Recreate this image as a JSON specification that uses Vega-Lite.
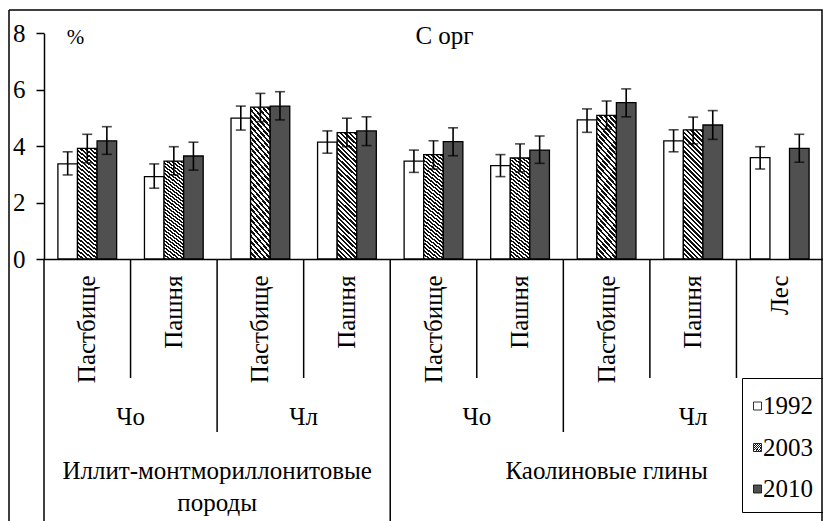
{
  "$schema": "https://vega.github.io/schema/vega-lite/v6.json",
  "width": 813,
  "height": 511,
  "autosize": "none",
  "padding": {"left": 9, "top": 10, "right": 1, "bottom": 0},
  "background": "#ffffff",
  "config": {
    "font": "Liberation Serif",
    "text": {"font": "Liberation Serif"},
    "view": {"stroke": "#000000", "strokeWidth": 1.5, "strokeDash": [1324, 813, 511, 0]},
    "axis": {"labelFont": "Liberation Serif", "titleFont": "Liberation Serif", "labelColor": "#000000", "labelFontSize": 25, "titleColor": "#000000", "domainColor": "#000000", "tickColor": "#000000", "grid": false, "labelOverlap": false, "labelFlush": false},
    "legend": {"labelFont": "Liberation Serif", "titleFont": "Liberation Serif"}
  },
  "title": {"text": "С орг", "frame": "group", "anchor": "middle", "dx": 29, "dy": 25, "offset": -34, "baseline": "alphabetic", "font": "Liberation Serif", "fontSize": 25, "fontWeight": "normal", "color": "#000000"},
  "datasets": {
    "bars": [
      {"cat": "Иллит Чо Пастбище", "year": "1992", "value": 3.37, "lo": 2.98, "hi": 3.80},
      {"cat": "Иллит Чо Пастбище", "year": "2003", "value": 3.92, "lo": 3.41, "hi": 4.42},
      {"cat": "Иллит Чо Пастбище", "year": "2010", "value": 4.19, "lo": 3.71, "hi": 4.69},
      {"cat": "Иллит Чо Пашня", "year": "1992", "value": 2.92, "lo": 2.51, "hi": 3.37},
      {"cat": "Иллит Чо Пашня", "year": "2003", "value": 3.47, "lo": 2.98, "hi": 3.98},
      {"cat": "Иллит Чо Пашня", "year": "2010", "value": 3.65, "lo": 3.15, "hi": 4.14},
      {"cat": "Иллит Чл Пастбище", "year": "1992", "value": 4.99, "lo": 4.57, "hi": 5.42},
      {"cat": "Иллит Чл Пастбище", "year": "2003", "value": 5.38, "lo": 4.87, "hi": 5.87},
      {"cat": "Иллит Чл Пастбище", "year": "2010", "value": 5.42, "lo": 4.93, "hi": 5.93},
      {"cat": "Иллит Чл Пашня", "year": "1992", "value": 4.14, "lo": 3.75, "hi": 4.54},
      {"cat": "Иллит Чл Пашня", "year": "2003", "value": 4.48, "lo": 3.98, "hi": 4.99},
      {"cat": "Иллит Чл Пашня", "year": "2010", "value": 4.54, "lo": 4.02, "hi": 5.04},
      {"cat": "Каолин Чо Пастбище", "year": "1992", "value": 3.47, "lo": 3.07, "hi": 3.86},
      {"cat": "Каолин Чо Пастбище", "year": "2003", "value": 3.70, "lo": 3.19, "hi": 4.19},
      {"cat": "Каолин Чо Пастбище", "year": "2010", "value": 4.16, "lo": 3.66, "hi": 4.65},
      {"cat": "Каолин Чо Пашня", "year": "1992", "value": 3.31, "lo": 2.92, "hi": 3.70},
      {"cat": "Каолин Чо Пашня", "year": "2003", "value": 3.58, "lo": 3.09, "hi": 4.08},
      {"cat": "Каолин Чо Пашня", "year": "2010", "value": 3.86, "lo": 3.39, "hi": 4.36},
      {"cat": "Каолин Чл Пастбище", "year": "1992", "value": 4.93, "lo": 4.49, "hi": 5.32},
      {"cat": "Каолин Чл Пастбище", "year": "2003", "value": 5.09, "lo": 4.60, "hi": 5.60},
      {"cat": "Каолин Чл Пастбище", "year": "2010", "value": 5.54, "lo": 5.04, "hi": 6.03},
      {"cat": "Каолин Чл Пашня", "year": "1992", "value": 4.19, "lo": 3.80, "hi": 4.58},
      {"cat": "Каолин Чл Пашня", "year": "2003", "value": 4.58, "lo": 4.08, "hi": 5.03},
      {"cat": "Каолин Чл Пашня", "year": "2010", "value": 4.75, "lo": 4.24, "hi": 5.26},
      {"cat": "Каолин Лес", "year": "1992", "value": 3.59, "lo": 3.19, "hi": 3.98},
      {"cat": "Каолин Лес", "year": "2010", "value": 3.92, "lo": 3.43, "hi": 4.42}
    ],
    "dividers": [
      {"cat": "Иллит Чо Пастбище", "depth": 3},
      {"cat": "Иллит Чо Пашня", "depth": 1},
      {"cat": "Иллит Чл Пастбище", "depth": 2},
      {"cat": "Иллит Чл Пашня", "depth": 1},
      {"cat": "Каолин Чо Пастбище", "depth": 3},
      {"cat": "Каолин Чо Пашня", "depth": 1},
      {"cat": "Каолин Чл Пастбище", "depth": 2},
      {"cat": "Каолин Чл Пашня", "depth": 1},
      {"cat": "Каолин Лес", "depth": 1}
    ],
    "groups": [
      {"label": "Чо", "level": 2, "cat": "Иллит Чо Пастбище", "anchor": "edge"},
      {"label": "Чл", "level": 2, "cat": "Иллит Чл Пастбище", "anchor": "edge"},
      {"label": "Чо", "level": 2, "cat": "Каолин Чо Пастбище", "anchor": "edge"},
      {"label": "Чл", "level": 2, "cat": "Каолин Чл Пашня", "anchor": "middle"},
      {"label": "Иллит-монтмориллонитовые\nпороды", "level": 3, "cat": "Иллит Чо Пашня", "anchor": "edge"},
      {"label": "Каолиновые глины", "level": 3, "cat": "Каолин Чл Пастбище", "anchor": "middle"}
    ]
  },
  "layer": [
    {
      "data": {"name": "bars"},
      "encoding": {
        "x": {
          "field": "cat", "type": "nominal",
          "scale": {"domain": ["Иллит Чо Пастбище", "Иллит Чо Пашня", "Иллит Чл Пастбище", "Иллит Чл Пашня", "Каолин Чо Пастбище", "Каолин Чо Пашня", "Каолин Чл Пастбище", "Каолин Чл Пашня", "Каолин Лес"], "range": [35, 814], "paddingInner": 0, "paddingOuter": 0},
          "axis": {"orient": "bottom", "offset": -262, "title": null, "ticks": false, "domainWidth": 1.5, "labelAngle": -90, "labelAlign": "right", "labelBaseline": "middle", "labelPadding": 16, "labelLimit": 0, "labelExpr": "peek(split(datum.value, ' '))"}
        },
        "xOffset": {"field": "year", "type": "nominal", "scale": {"domain": ["1992", "2003", "2010"], "paddingInner": 0, "paddingOuter": 0.71}}
      },
      "layer": [
        {
          "mark": {"type": "bar", "stroke": "#000000", "strokeWidth": 1.3},
          "encoding": {
            "y": {
              "field": "value", "type": "quantitative",
              "scale": {"domain": [0, 8], "range": [249, 23.3], "nice": false},
              "axis": {"offset": -35, "values": [0, 2, 4, 6, 8], "format": "d", "tickSize": 8, "tickWidth": 1.5, "domainWidth": 1.5, "labelPadding": 11, "title": "%", "titleAngle": 0, "titleX": 31, "titleY": 33, "titleAlign": "center", "titleBaseline": "alphabetic", "titleFontSize": 21, "titleFontWeight": "normal"}
            },
            "fill": {
              "field": "year", "type": "nominal",
              "scale": {
                "domain": ["1992", "2003", "2010"],
                "range": [
                  "#ffffff",
                  {"expr": "{gradient: 'linear', x1: 0, y1: 1, x2: 0.17, y2: -0.13, stops: [{offset: 0, color: '#111'}, {offset: 0.015625, color: '#111'}, {offset: 0.015625, color: '#fff'}, {offset: 0.03125, color: '#fff'}, {offset: 0.03125, color: '#111'}, {offset: 0.046875, color: '#111'}, {offset: 0.046875, color: '#fff'}, {offset: 0.0625, color: '#fff'}, {offset: 0.0625, color: '#111'}, {offset: 0.078125, color: '#111'}, {offset: 0.078125, color: '#fff'}, {offset: 0.09375, color: '#fff'}, {offset: 0.09375, color: '#111'}, {offset: 0.109375, color: '#111'}, {offset: 0.109375, color: '#fff'}, {offset: 0.125, color: '#fff'}, {offset: 0.125, color: '#111'}, {offset: 0.140625, color: '#111'}, {offset: 0.140625, color: '#fff'}, {offset: 0.15625, color: '#fff'}, {offset: 0.15625, color: '#111'}, {offset: 0.171875, color: '#111'}, {offset: 0.171875, color: '#fff'}, {offset: 0.1875, color: '#fff'}, {offset: 0.1875, color: '#111'}, {offset: 0.203125, color: '#111'}, {offset: 0.203125, color: '#fff'}, {offset: 0.21875, color: '#fff'}, {offset: 0.21875, color: '#111'}, {offset: 0.234375, color: '#111'}, {offset: 0.234375, color: '#fff'}, {offset: 0.25, color: '#fff'}, {offset: 0.25, color: '#111'}, {offset: 0.265625, color: '#111'}, {offset: 0.265625, color: '#fff'}, {offset: 0.28125, color: '#fff'}, {offset: 0.28125, color: '#111'}, {offset: 0.296875, color: '#111'}, {offset: 0.296875, color: '#fff'}, {offset: 0.3125, color: '#fff'}, {offset: 0.3125, color: '#111'}, {offset: 0.328125, color: '#111'}, {offset: 0.328125, color: '#fff'}, {offset: 0.34375, color: '#fff'}, {offset: 0.34375, color: '#111'}, {offset: 0.359375, color: '#111'}, {offset: 0.359375, color: '#fff'}, {offset: 0.375, color: '#fff'}, {offset: 0.375, color: '#111'}, {offset: 0.390625, color: '#111'}, {offset: 0.390625, color: '#fff'}, {offset: 0.40625, color: '#fff'}, {offset: 0.40625, color: '#111'}, {offset: 0.421875, color: '#111'}, {offset: 0.421875, color: '#fff'}, {offset: 0.4375, color: '#fff'}, {offset: 0.4375, color: '#111'}, {offset: 0.453125, color: '#111'}, {offset: 0.453125, color: '#fff'}, {offset: 0.46875, color: '#fff'}, {offset: 0.46875, color: '#111'}, {offset: 0.484375, color: '#111'}, {offset: 0.484375, color: '#fff'}, {offset: 0.5, color: '#fff'}, {offset: 0.5, color: '#111'}, {offset: 0.515625, color: '#111'}, {offset: 0.515625, color: '#fff'}, {offset: 0.53125, color: '#fff'}, {offset: 0.53125, color: '#111'}, {offset: 0.546875, color: '#111'}, {offset: 0.546875, color: '#fff'}, {offset: 0.5625, color: '#fff'}, {offset: 0.5625, color: '#111'}, {offset: 0.578125, color: '#111'}, {offset: 0.578125, color: '#fff'}, {offset: 0.59375, color: '#fff'}, {offset: 0.59375, color: '#111'}, {offset: 0.609375, color: '#111'}, {offset: 0.609375, color: '#fff'}, {offset: 0.625, color: '#fff'}, {offset: 0.625, color: '#111'}, {offset: 0.640625, color: '#111'}, {offset: 0.640625, color: '#fff'}, {offset: 0.65625, color: '#fff'}, {offset: 0.65625, color: '#111'}, {offset: 0.671875, color: '#111'}, {offset: 0.671875, color: '#fff'}, {offset: 0.6875, color: '#fff'}, {offset: 0.6875, color: '#111'}, {offset: 0.703125, color: '#111'}, {offset: 0.703125, color: '#fff'}, {offset: 0.71875, color: '#fff'}, {offset: 0.71875, color: '#111'}, {offset: 0.734375, color: '#111'}, {offset: 0.734375, color: '#fff'}, {offset: 0.75, color: '#fff'}, {offset: 0.75, color: '#111'}, {offset: 0.765625, color: '#111'}, {offset: 0.765625, color: '#fff'}, {offset: 0.78125, color: '#fff'}, {offset: 0.78125, color: '#111'}, {offset: 0.796875, color: '#111'}, {offset: 0.796875, color: '#fff'}, {offset: 0.8125, color: '#fff'}, {offset: 0.8125, color: '#111'}, {offset: 0.828125, color: '#111'}, {offset: 0.828125, color: '#fff'}, {offset: 0.84375, color: '#fff'}, {offset: 0.84375, color: '#111'}, {offset: 0.859375, color: '#111'}, {offset: 0.859375, color: '#fff'}, {offset: 0.875, color: '#fff'}, {offset: 0.875, color: '#111'}, {offset: 0.890625, color: '#111'}, {offset: 0.890625, color: '#fff'}, {offset: 0.90625, color: '#fff'}, {offset: 0.90625, color: '#111'}, {offset: 0.921875, color: '#111'}, {offset: 0.921875, color: '#fff'}, {offset: 0.9375, color: '#fff'}, {offset: 0.9375, color: '#111'}, {offset: 0.953125, color: '#111'}, {offset: 0.953125, color: '#fff'}, {offset: 0.96875, color: '#fff'}, {offset: 0.96875, color: '#111'}, {offset: 0.984375, color: '#111'}, {offset: 0.984375, color: '#fff'}, {offset: 1, color: '#fff'}]}"},
                  "#505050"
                ]
              },
              "legend": {"orient": "none", "legendX": 733, "legendY": 368, "title": " ", "titleFontSize": 5.5, "titlePadding": 0, "direction": "vertical", "strokeColor": "#000000", "padding": 10, "symbolType": "square", "symbolSize": 64, "symbolOffset": -7, "symbolStrokeColor": "#000000", "symbolStrokeWidth": 0.8, "labelFontSize": 25, "labelOffset": -7, "labelColor": "#000000", "rowPadding": 15.5}
            }
          }
        },
        {
          "mark": {"type": "rule", "color": "#000000", "strokeWidth": 1.6},
          "encoding": {
            "y": {"field": "lo", "type": "quantitative", "scale": {"domain": [0, 8], "range": [249, 23.3], "nice": false}},
            "y2": {"field": "hi"}
          }
        },
        {
          "mark": {"type": "tick", "color": "#000000", "thickness": 1.6, "size": 10},
          "encoding": {
            "y": {"field": "hi", "type": "quantitative", "scale": {"domain": [0, 8], "range": [249, 23.3], "nice": false}}
          }
        },
        {
          "mark": {"type": "tick", "color": "#000000", "thickness": 1.6, "size": 10},
          "encoding": {
            "y": {"field": "lo", "type": "quantitative", "scale": {"domain": [0, 8], "range": [249, 23.3], "nice": false}}
          }
        }
      ]
    },
    {
      "data": {"name": "dividers"},
      "mark": {"type": "rule", "color": "#000000", "strokeWidth": 1.5},
      "encoding": {
        "x": {"field": "cat", "type": "nominal", "bandPosition": 0, "scale": {"domain": ["Иллит Чо Пастбище", "Иллит Чо Пашня", "Иллит Чл Пастбище", "Иллит Чл Пашня", "Каолин Чо Пастбище", "Каолин Чо Пашня", "Каолин Чл Пастбище", "Каолин Чл Пашня", "Каолин Лес"]}},
        "y": {"field": "depth", "type": "quantitative", "scale": {"domain": [0, 1, 2, 3], "range": [249, 368, 422, 530], "nice": false, "zero": false}, "axis": null},
        "y2": {"datum": 0}
      }
    },
    {
      "data": {"name": "groups"},
      "transform": [{"filter": "datum.anchor == 'edge'"}],
      "mark": {"type": "text", "font": "Liberation Serif", "fontSize": 25, "baseline": "top", "align": "center", "lineBreak": "\n", "lineHeight": 32, "color": "#000000"},
      "encoding": {
        "x": {"field": "cat", "type": "nominal", "bandPosition": 1, "scale": {"domain": ["Иллит Чо Пастбище", "Иллит Чо Пашня", "Иллит Чл Пастбище", "Иллит Чл Пашня", "Каолин Чо Пастбище", "Каолин Чо Пашня", "Каолин Чл Пастбище", "Каолин Чл Пашня", "Каолин Лес"]}},
        "y": {"field": "level", "type": "quantitative", "scale": {"domain": [2, 3], "range": [395, 449], "nice": false, "zero": false}, "axis": null},
        "text": {"field": "label"}
      }
    },
    {
      "data": {"name": "groups"},
      "transform": [{"filter": "datum.anchor == 'middle'"}],
      "mark": {"type": "text", "font": "Liberation Serif", "fontSize": 25, "baseline": "top", "align": "center", "lineBreak": "\n", "lineHeight": 32, "color": "#000000"},
      "encoding": {
        "x": {"field": "cat", "type": "nominal", "bandPosition": 0.5, "scale": {"domain": ["Иллит Чо Пастбище", "Иллит Чо Пашня", "Иллит Чл Пастбище", "Иллит Чл Пашня", "Каолин Чо Пастбище", "Каолин Чо Пашня", "Каолин Чл Пастбище", "Каолин Чл Пашня", "Каолин Лес"]}},
        "y": {"field": "level", "type": "quantitative", "scale": {"domain": [2, 3], "range": [395, 449], "nice": false, "zero": false}, "axis": null},
        "text": {"field": "label"}
      }
    }
  ],
  "resolve": {"scale": {"y": "independent"}}
}
